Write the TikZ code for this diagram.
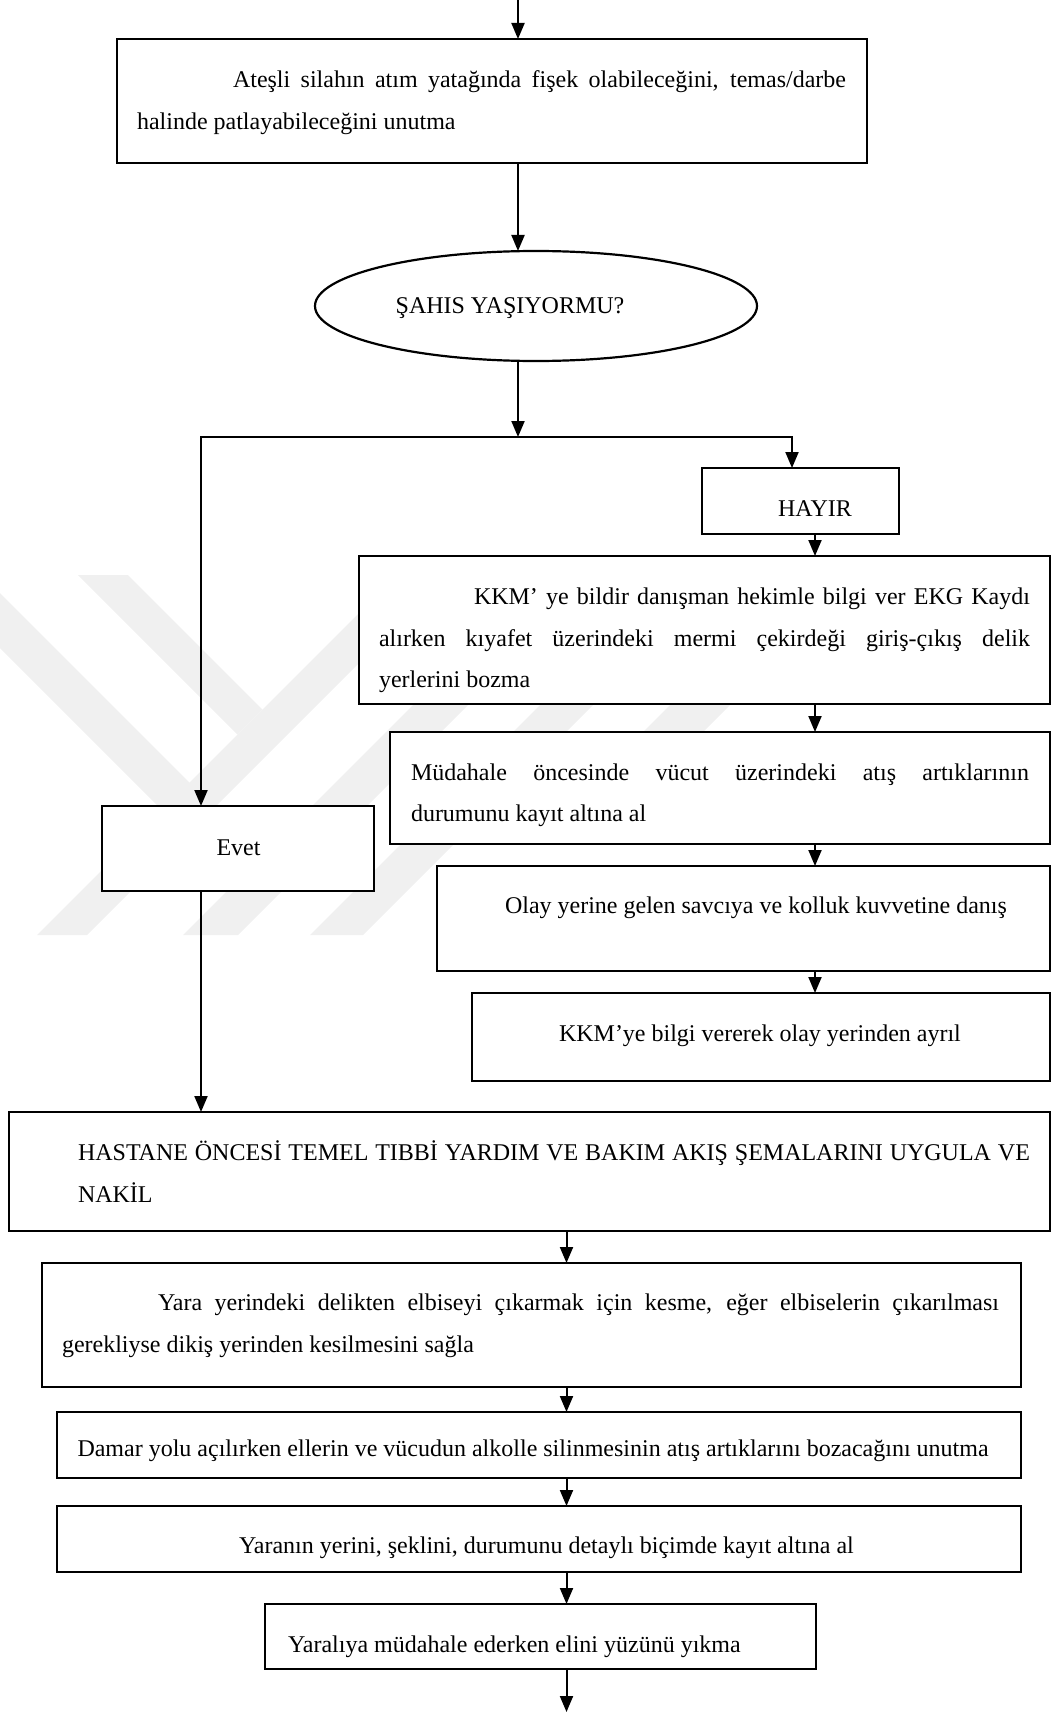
\documentclass[tikz,border=0pt]{standalone}
\usepackage{fontspec}
\setmainfont{Liberation Serif}
\usetikzlibrary{arrows.meta,shapes.geometric}

\tikzset{
  box/.style={draw, fill=white, line width=2.2pt, rectangle, inner sep=0pt, outer sep=0pt},
  decision/.style={draw, fill=white, line width=2.2pt, ellipse, inner sep=0pt, outer sep=0pt},
  txt/.style={inner sep=0pt, outer sep=0pt, font=\fontsize{24}{42}\selectfont},
  link/.style={line width=2pt},
  arr/.style={link, -{Triangle[length=16pt,width=13pt]}},
  wm/.style={fill=black!6, draw=none},
}
% a justified line of given width
\newcommand{\jline}[2]{\hbox to #1pt{#2}}

\begin{document}
\begin{tikzpicture}[x=1pt,y=-1pt]
\useasboundingbox (0,0) rectangle (1051,1712);

% ---------- faint background emblem: crossing diagonal bands ----------
\fill[wm] (78,575) -- (128,575) -- (262.5,709.5) -- (237.5,734.5) -- cycle;
\fill[wm] (397,575) -- (447,575) -- (87,935) -- (37,935) -- cycle;
\fill[wm] (0,593) -- (262.5,855.5) -- (235,883) -- (0,648) -- cycle;
\fill[wm] (562,556) -- (617,556) -- (238,935) -- (183,935) -- cycle;
\fill[wm] (689,556) -- (742,556) -- (363,935) -- (310,935) -- cycle;
\fill[wm] (819,556) -- (879,556) -- (635,800) -- (575,800) -- cycle;

% ---------- boxes ----------
\node[box, minimum width=750, minimum height=124] (warn) at (492,101) {};
\node[decision, minimum width=442, minimum height=110] (alive) at (536,306) {};
\node[box, minimum width=197, minimum height=66] (no) at (800.5,501) {};
\node[box, minimum width=691, minimum height=148] (report) at (704.5,630) {};
\node[box, minimum width=660, minimum height=112] (record) at (720,788) {};
\node[box, minimum width=613, minimum height=105] (consult) at (743.5,918.5) {};
\node[box, minimum width=578, minimum height=88] (leave) at (761,1037) {};
\node[box, minimum width=272, minimum height=85] (yes) at (238,848.5) {};
\node[box, minimum width=1041, minimum height=119] (apply) at (529.5,1171.5) {};
\node[box, minimum width=979, minimum height=124] (cut) at (531.5,1325) {};
\node[box, minimum width=964, minimum height=66] (vein) at (539,1445) {};
\node[box, minimum width=964, minimum height=66] (wound) at (539,1539) {};
\node[box, minimum width=551, minimum height=65] (hands) at (540.5,1636.5) {};

% ---------- texts ----------
\node[txt, anchor=base west] (warnA) at (233,88)
  {\jline{613}{Ateşli silahın atım yatağında fişek olabileceğini, temas/darbe}};
\node[txt, anchor=base west] (warnB) at (137,130) {halinde patlayabileceğini unutma};

\node[txt, anchor=base] (aliveT) at (510,313) {ŞAHIS YAŞIYORMU?};
\node[txt, anchor=base] (noT) at (815,516.5) {HAYIR};
\node[txt, anchor=base] (yesT) at (238.5,855) {Evet};

\node[txt, anchor=base west] (reportA) at (474,604)
  {\jline{556}{KKM’ ye bildir danışman hekimle bilgi ver EKG Kaydı}};
\node[txt, anchor=base west] (reportB) at (379,646)
  {\jline{651}{alırken kıyafet üzerindeki mermi çekirdeği giriş-çıkış delik}};
\node[txt, anchor=base west] (reportC) at (379,687) {yerlerini bozma};

\node[txt, anchor=base west] (recordA) at (411,780)
  {\jline{618}{Müdahale öncesinde vücut üzerindeki atış artıklarının}};
\node[txt, anchor=base west] (recordB) at (411,821) {durumunu kayıt altına al};

\node[txt, anchor=base west] (consultT) at (505,913.5)
  {Olay yerine gelen savcıya ve kolluk kuvvetine danış};
\node[txt, anchor=base west] (leaveT) at (559,1041)
  {KKM’ye bilgi vererek olay yerinden ayrıl};

\node[txt, anchor=base west] (applyA) at (78,1160)
  {\jline{952}{HASTANE ÖNCESİ TEMEL TIBBİ YARDIM VE BAKIM AKIŞ ŞEMALARINI UYGULA VE}};
\node[txt, anchor=base west] (applyB) at (78,1202) {NAKİL};

\node[txt, anchor=base west] (cutA) at (158,1310)
  {\jline{841}{Yara yerindeki delikten elbiseyi çıkarmak için kesme, eğer elbiselerin çıkarılması}};
\node[txt, anchor=base west] (cutB) at (62,1352) {gerekliyse dikiş yerinden kesilmesini sağla};

\node[txt, anchor=base west] (veinT) at (77.5,1456)
  {Damar yolu açılırken ellerin ve vücudun alkolle silinmesinin atış artıklarını bozacağını unutma};
\node[txt, anchor=base west] (woundT) at (239,1553)
  {Yaranın yerini, şeklini, durumunu detaylı biçimde kayıt altına al};
\node[txt, anchor=base west] (handsT) at (288,1652)
  {Yaralıya müdahale ederken elini yüzünü yıkma};

% ---------- connector columns ----------
\coordinate (topcol) at (518,0);
\coordinate (split) at (518,437);
\coordinate (yesturn) at (201,437);
\coordinate (noturn) at (792,437);
\coordinate (rcol) at (815,0);
\coordinate (bcol) at (566.5,0);
\coordinate (exit) at (566.5,1712);

\draw[arr] (topcol) -- (topcol |- warn.north);
\draw[arr] (topcol |- warn.south) -- (topcol |- alive.north);
\draw[arr] (topcol |- alive.south) -- (split);
\draw[arr] (split) -- (noturn) -- (noturn |- no.north);
\draw[arr] (split) -- (yesturn) -- (yesturn |- yes.north);

\draw[arr] (rcol |- no.south) -- (rcol |- report.north);
\draw[arr] (rcol |- report.south) -- (rcol |- record.north);
\draw[arr] (rcol |- record.south) -- (rcol |- consult.north);
\draw[arr] (rcol |- consult.south) -- (rcol |- leave.north);

\draw[arr] (yesturn |- yes.south) -- (yesturn |- apply.north);

\draw[arr] (bcol |- apply.south) -- (bcol |- cut.north);
\draw[arr] (bcol |- cut.south) -- (bcol |- vein.north);
\draw[arr] (bcol |- vein.south) -- (bcol |- wound.north);
\draw[arr] (bcol |- wound.south) -- (bcol |- hands.north);
\draw[arr] (bcol |- hands.south) -- (exit);
\end{tikzpicture}
\end{document}
